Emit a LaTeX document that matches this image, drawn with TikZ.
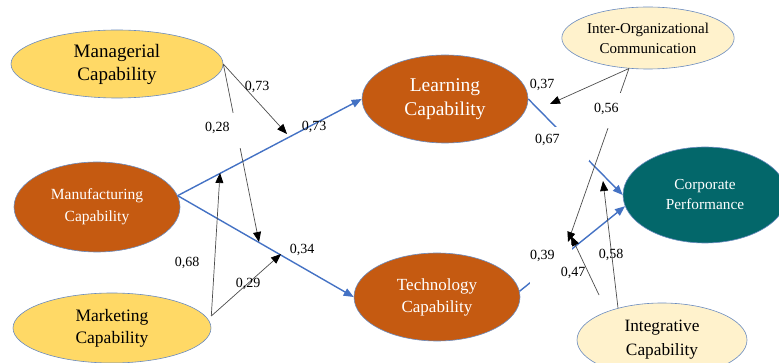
\documentclass[tikz,border=0pt]{standalone}
\usepackage{fontspec}
\setmainfont{Liberation Serif}
\usetikzlibrary{shapes.geometric}
\usetikzlibrary{arrows.meta}

\definecolor{capyellow}{HTML}{FFD966}
\definecolor{capbrown}{HTML}{C55A11}
\definecolor{capteal}{HTML}{03676A}
\definecolor{capcream}{HTML}{FFF2CC}
\definecolor{capedge}{HTML}{6A8BBF}
\definecolor{pathblue}{HTML}{4472C4}

\tikzset{
  capnode/.style={ellipse, draw=capedge, line width=0.6pt, align=center, inner sep=0pt},
  mainpath/.style={pathblue, line width=1.4pt, -{Triangle[length=10pt,width=8pt]}},
  modpath/.style={black!70, line width=0.7pt, -{Triangle[length=10pt,width=8pt,color=black]}},
  coef/.style={font=\fontsize{14}{14}\selectfont, inner sep=0pt},
  gapbox/.style={coef, fill=white, align=left, anchor=base west},
}

\begin{document}
\begin{tikzpicture}[x=1pt,y=-1pt]
\useasboundingbox (0,0) rectangle (779,363);

% capabilities
\node[capnode, fill=capyellow, minimum width=212pt, minimum height=68pt,
      font=\fontsize{19}{23}\selectfont] (mgr) at (117,64) {Managerial\\Capability};
\node[capnode, fill=capbrown, text=white, minimum width=166pt, minimum height=90pt,
      font=\fontsize{15.5}{22}\selectfont] (manu) at (97,207) {Manufacturing\\Capability};
\node[capnode, fill=capyellow, minimum width=198pt, minimum height=70pt,
      font=\fontsize{17.5}{22}\selectfont] (mkt) at (112,328) {Marketing\\Capability};
\node[capnode, fill=capbrown, text=white, minimum width=166pt, minimum height=88pt,
      font=\fontsize{19.5}{24}\selectfont] (learn) at (445,99) {Learning\\Capability};
\node[capnode, fill=capbrown, text=white, minimum width=166pt, minimum height=88pt,
      font=\fontsize{17}{22}\selectfont] (tech) at (437,297) {Technology\\Capability};
\node[capnode, fill=capcream, minimum width=172pt, minimum height=62pt,
      font=\fontsize{15}{20}\selectfont] (ioc) at (648,38) {Inter-Organizational\\Communication};
\node[capnode, fill=capteal, text=white, minimum width=164pt, minimum height=96pt,
      font=\fontsize{15.3}{20}\selectfont] (corp) at (705,195) {Corporate\\Performance};
\node[capnode, fill=capcream, minimum width=170pt, minimum height=74pt,
      font=\fontsize{17.3}{24}\selectfont] (integ) at (662,340) {Integrative\\Capability};

% points on the main paths
\coordinate (onL1) at (287,134);
\coordinate (onL2) at (220,173);
\coordinate (onT1) at (259,242);
\coordinate (onT2) at (281,254);
\coordinate (onP1) at (550,104);
\coordinate (onP2) at (603,181);
\coordinate (onQ1) at (568,242);
\coordinate (onQ2) at (571,236);
\coordinate (intFoot) at (599,295);

% main paths
\draw[mainpath] (manu.8) -- (learn.west);
\draw[mainpath] (manu.8) -- (tech.west);
\draw[mainpath] (learn.east) -- (corp.west);
\draw[mainpath] (tech.4) -- (corp.188);

% moderating paths
\draw[modpath] (mgr.east) -- (onL1);
\draw[modpath] (mgr.east) -- (onT1);
\draw[modpath] ([yshift=12pt]mkt.east) -- (onL2);
\draw[modpath] ([yshift=12pt]mkt.east) -- (onT2);
\draw[modpath] (ioc.238) -- (onP1);
\draw[modpath] (ioc.238) -- (onQ1);
\draw[modpath] (integ.144) -- (onP2);
\draw[modpath] (intFoot) -- (onQ2);

% coefficients
\node[gapbox, text width=40pt, text height=19pt, text depth=16pt] (cMgrT) at (205,132) {0,28};
\node[gapbox, text width=30pt, text height=20pt, text depth=15pt] (cIocT) at (594,113) {0,56};
\node[gapbox, text width=54pt, text height=17pt, text depth=17pt] (cLrnP) at (535,144) {0,67};
\node[gapbox, text width=42pt, text height=15pt, text depth=25pt] (cTecP) at (530,260) {0,39};
\node[coef] (cMgrL) at (257,87) {0,73};
\node[coef] (cManL) at (314,127) {0,73};
\node[coef] (cMktL) at (187,263) {0,68};
\node[coef] (cMktT) at (248,284) {0,29};
\node[coef] (cManT) at (302,250) {0,34};
\node[coef] (cIocL) at (542,85) {0,37};
\node[coef] (cIntT) at (573,273) {0,47};
\node[coef] (cIntL) at (611,255) {0,58};
\end{tikzpicture}
\end{document}
